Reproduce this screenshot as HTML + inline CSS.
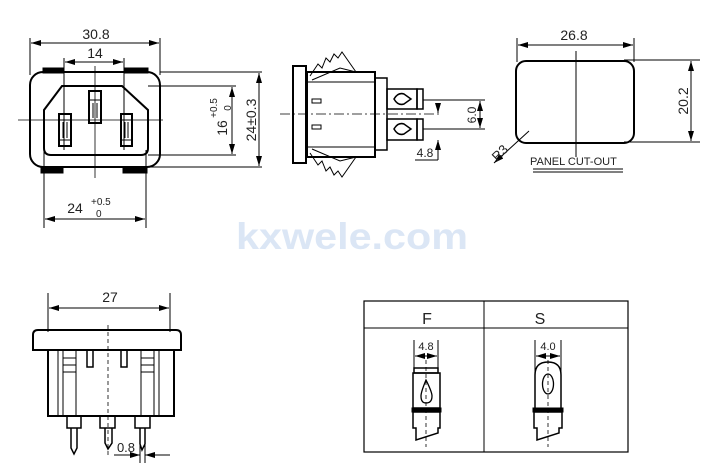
<!DOCTYPE html>
<html><head><meta charset="utf-8"><style>
html,body{margin:0;padding:0;background:#fff;}
svg{display:block;}
text{font-family:"Liberation Sans",sans-serif;fill:#222;}
</style></head><body>
<svg width="714" height="475" viewBox="0 0 714 475" xmlns="http://www.w3.org/2000/svg">
<defs>
<marker id="a" viewBox="0 0 10 6" refX="10" refY="3" markerWidth="10" markerHeight="6" orient="auto-start-reverse" markerUnits="userSpaceOnUse"><path d="M0,0 L10,3 L0,6 Z" fill="#000"/></marker>
</defs>
<g stroke="#000" fill="none" stroke-width="1">
<!-- FRONT VIEW -->
<line x1="30" y1="38" x2="30" y2="75"/><line x1="160" y1="38" x2="160" y2="75"/>
<line x1="31" y1="43" x2="159" y2="43" marker-start="url(#a)" marker-end="url(#a)"/>
<line x1="64" y1="58" x2="64" y2="150"/><line x1="124" y1="58" x2="124" y2="150"/>
<line x1="65" y1="62" x2="123" y2="62" marker-start="url(#a)" marker-end="url(#a)"/>
<rect x="30" y="72" width="130" height="95" rx="13" stroke-width="2"/>
<rect x="43" y="68" width="21" height="5" fill="#000"/><rect x="125" y="68" width="23" height="5" fill="#000"/>
<rect x="41" y="167" width="22" height="6" fill="#000"/><rect x="123" y="167" width="24" height="6" fill="#000"/>
<path d="M62,86 L122,86 L148,110 L148,148 Q148,155 141,155 L51,155 Q44,155 44,148 L44,110 Z" stroke-width="2"/>
<rect x="89" y="91" width="12" height="32" stroke-width="2"/><line x1="89" y1="100" x2="101" y2="100"/><line x1="93" y1="103" x2="93" y2="118"/><line x1="97" y1="103" x2="97" y2="118"/>
<rect x="59" y="114" width="12" height="32" stroke-width="2"/><line x1="59" y1="120" x2="71" y2="120"/><line x1="59" y1="140" x2="71" y2="140"/><line x1="63" y1="122" x2="63" y2="138"/><line x1="67" y1="122" x2="67" y2="138"/>
<rect x="121" y="114" width="11" height="32" stroke-width="2"/><line x1="121" y1="120" x2="132" y2="120"/><line x1="121" y1="140" x2="132" y2="140"/><line x1="125" y1="122" x2="125" y2="138"/><line x1="128" y1="122" x2="128" y2="138"/>
<line x1="18" y1="120" x2="163" y2="120" stroke-width="0.8"/><line x1="95" y1="66" x2="95" y2="178" stroke-width="0.8"/>
<line x1="148" y1="86" x2="236" y2="86"/><line x1="148" y1="155" x2="236" y2="155"/>
<line x1="232" y1="87" x2="232" y2="154" marker-start="url(#a)" marker-end="url(#a)"/>
<line x1="160" y1="72" x2="262" y2="72"/><line x1="150" y1="167" x2="262" y2="167"/>
<line x1="259" y1="73" x2="259" y2="166" marker-start="url(#a)" marker-end="url(#a)"/>
<line x1="44" y1="150" x2="44" y2="228"/><line x1="146" y1="150" x2="146" y2="228"/>
<line x1="45" y1="219" x2="145" y2="219" marker-start="url(#a)" marker-end="url(#a)"/>

<!-- SIDE VIEW -->
<rect x="293" y="66" width="13" height="97" stroke-width="2"/>
<rect x="307" y="72" width="68" height="85" stroke-width="2"/>
<line x1="307" y1="82" x2="375" y2="82"/><line x1="307" y1="147" x2="375" y2="147"/>
<path d="M310,76 L318,64 L322,68 L326,58 L330,62 L334,54 L338,58 L342,52 L356,72" />
<path d="M312,80 L340,68 L356,72"/>
<path d="M310,153 L318,165 L322,161 L326,171 L330,167 L334,175 L338,171 L342,177 L356,157"/>
<path d="M312,149 L340,161 L356,157"/>
<rect x="312" y="99" width="9" height="4"/><rect x="312" y="125" width="9" height="4"/>
<rect x="375" y="78" width="12" height="72" stroke-width="1.5"/>
<rect x="387" y="89" width="30" height="20" stroke-width="1.5"/><rect x="417" y="89" width="6" height="20" stroke-width="1.5"/>
<rect x="387" y="119" width="30" height="21" stroke-width="1.5"/><rect x="417" y="119" width="6" height="21" stroke-width="1.5"/>
<path d="M394,99 Q398,92 404,94 L411,99 L404,104 Q398,106 394,99 Z" stroke-width="1.5"/>
<path d="M394,129 Q398,122 404,124 L411,129 L404,134 Q398,136 394,129 Z" stroke-width="1.5"/>
<line x1="280" y1="114" x2="440" y2="114" stroke-width="0.8" stroke-dasharray="10,3,2,3"/>
<line x1="423" y1="100" x2="485" y2="100"/><line x1="423" y1="129" x2="485" y2="129"/>
<line x1="480" y1="101" x2="480" y2="128" marker-start="url(#a)" marker-end="url(#a)"/>
<line x1="438" y1="105" x2="438" y2="113" marker-end="url(#a)"/>
<line x1="438" y1="140" x2="438" y2="160" marker-start="url(#a)"/><line x1="415" y1="160" x2="438" y2="160"/>

<!-- PANEL CUT-OUT -->
<rect x="516" y="61" width="118" height="82" rx="10" stroke-width="2"/>
<line x1="576" y1="51" x2="576" y2="157"/>
<line x1="517" y1="38" x2="517" y2="62"/><line x1="634" y1="38" x2="634" y2="62"/>
<line x1="518" y1="45" x2="633" y2="45" marker-start="url(#a)" marker-end="url(#a)"/>
<line x1="624" y1="60" x2="700" y2="60"/><line x1="624" y1="142" x2="700" y2="142"/>
<line x1="691" y1="61" x2="691" y2="141" marker-start="url(#a)" marker-end="url(#a)"/>
<line x1="494" y1="163" x2="529" y2="131" marker-start="url(#a)"/>
<line x1="533" y1="169" x2="623" y2="169"/><line x1="533" y1="172" x2="623" y2="172"/>

<!-- BOTTOM-LEFT VIEW -->
<line x1="48" y1="293" x2="48" y2="332"/><line x1="170" y1="293" x2="170" y2="332"/>
<line x1="49" y1="308" x2="169" y2="308" marker-start="url(#a)" marker-end="url(#a)"/>
<path d="M33,350 L33,335 Q33,330 38,330 L176,330 Q181,330 181,335 L181,350 Z" stroke-width="2"/>
<path d="M48,350 L48,416 L174,416 L174,350" stroke-width="2"/>
<rect x="58" y="350" width="18" height="66"/><line x1="63" y1="350" x2="63" y2="416"/>
<line x1="63" y1="358" x2="76" y2="358"/><line x1="63" y1="365" x2="76" y2="365"/><line x1="63" y1="372" x2="76" y2="372"/>
<rect x="141" y="350" width="18" height="66"/><line x1="154" y1="350" x2="154" y2="416"/>
<line x1="141" y1="358" x2="154" y2="358"/><line x1="141" y1="365" x2="154" y2="365"/><line x1="141" y1="372" x2="154" y2="372"/>
<rect x="87" y="350" width="6" height="17" stroke-width="1.5"/><rect x="121" y="350" width="6" height="17" stroke-width="1.5"/>
<rect x="67" y="416" width="14" height="12" stroke-width="1.5"/><path d="M71,428 L71,448 L74,454 L77,448 L77,428" stroke-width="1.5"/>
<rect x="100" y="416" width="15" height="12" stroke-width="1.5"/><path d="M105,428 L105,443 L108,449 L112,443 L112,428" stroke-width="1.5"/>
<rect x="135" y="416" width="15" height="12" stroke-width="1.5"/><path d="M140,428 L140,444 L142,450 L145,444 L145,428" stroke-width="1.5"/>
<line x1="108" y1="325" x2="108" y2="455" stroke-dasharray="4,3" stroke-width="0.8"/>
<line x1="140" y1="445" x2="140" y2="463"/><line x1="145" y1="445" x2="145" y2="463"/>
<line x1="114" y1="455" x2="140" y2="455" marker-end="url(#a)"/><line x1="170" y1="455" x2="145" y2="455" marker-end="url(#a)"/>

<!-- TABLE -->
<rect x="364" y="301" width="264" height="151" stroke-width="1.2"/>
<line x1="364" y1="328" x2="628" y2="328"/><line x1="484" y1="301" x2="484" y2="452"/>
<!-- F -->
<line x1="414" y1="340" x2="414" y2="372"/><line x1="438" y1="340" x2="438" y2="372"/>
<line x1="415" y1="356" x2="437" y2="356" marker-start="url(#a)" marker-end="url(#a)"/>
<rect x="414" y="368" width="24" height="5" stroke-width="1.5"/>
<rect x="413" y="373" width="27" height="35" stroke-width="1.5"/>
<path d="M426,380 Q421,392 421,396 Q421,403 426,403 Q432,403 432,396 Q432,392 426,380 Z" stroke-width="1.3"/>
<rect x="412" y="408" width="29" height="4" fill="#000"/>
<path d="M413,412 L413,428 L416,428 L416,440 L438,433 L438,428 L440,428 L440,412 Z" stroke-width="1.5"/>
<line x1="426" y1="360" x2="426" y2="447" stroke-dasharray="4,3" stroke-width="0.8"/>
<!-- S -->
<line x1="535" y1="340" x2="535" y2="372"/><line x1="561" y1="340" x2="561" y2="372"/>
<line x1="536" y1="356" x2="560" y2="356" marker-start="url(#a)" marker-end="url(#a)"/>
<path d="M535,408 L535,375 Q535,362 548,362 Q561,362 561,375 L561,408" stroke-width="1.5"/>
<ellipse cx="548" cy="384" rx="5.5" ry="10" stroke-width="1.3"/>
<rect x="533" y="408" width="30" height="4" fill="#000"/>
<path d="M534,412 L534,428 L537,428 L537,440 L559,433 L559,428 L562,428 L562,412 Z" stroke-width="1.5"/>
<line x1="548" y1="360" x2="548" y2="447" stroke-dasharray="4,3" stroke-width="0.8"/>
</g>

<text x="236" y="249" font-size="37" font-weight="bold" style="fill:#dbe6f5" textLength="232" lengthAdjust="spacingAndGlyphs">kxwele.com</text>

<g font-size="14">
<text x="96" y="39" text-anchor="middle">30.8</text>
<text x="95" y="58" text-anchor="middle">14</text>
<text x="75" y="213" text-anchor="middle">24</text>
<text x="91" y="205" font-size="10">+0.5</text>
<text x="96" y="217" font-size="10">0</text>
<text transform="translate(227,128) rotate(-90)" text-anchor="middle">16</text>
<text transform="translate(217,108) rotate(-90)" font-size="10" text-anchor="middle">+0.5</text>
<text transform="translate(231,108) rotate(-90)" font-size="10" text-anchor="middle">0</text>
<text transform="translate(256,120) rotate(-90)" text-anchor="middle">24±0.3</text>
<text transform="translate(476,115) rotate(-90)" font-size="12" text-anchor="middle">6.0</text>
<text x="425" y="157" font-size="12" text-anchor="middle">4.8</text>
<text x="574" y="40" text-anchor="middle">26.8</text>
<text transform="translate(688,101) rotate(-90)" text-anchor="middle">20.2</text>
<text transform="translate(503,156) rotate(-45)" font-size="13" text-anchor="middle">R3</text>
<text x="530" y="165" font-size="11">PANEL CUT-OUT</text>
<text x="110" y="302" text-anchor="middle">27</text>
<text x="126" y="452" text-anchor="middle" font-size="13">0.8</text>
<text x="427" y="324" text-anchor="middle" font-size="16">F</text>
<text x="540" y="324" text-anchor="middle" font-size="16">S</text>
<text x="426" y="350" text-anchor="middle" font-size="11">4.8</text>
<text x="548" y="350" text-anchor="middle" font-size="11">4.0</text>
</g>
</svg>
</body></html>
